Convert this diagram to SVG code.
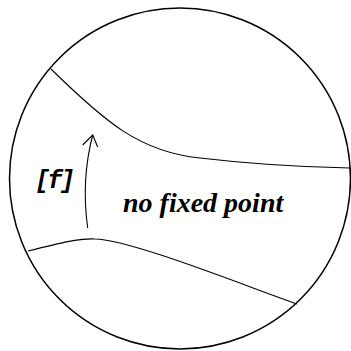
<svg xmlns="http://www.w3.org/2000/svg" width="351" height="351" viewBox="0 0 351 351">
<style>
.ln{fill:none;stroke:#000;stroke-width:1.1}
.lbl{font-family:"Liberation Serif",serif;font-style:italic;font-weight:bold;fill:#000}
.mono{font-family:"Liberation Mono",monospace}
</style>
<rect width="351" height="351" fill="#fff"/>
<g id="disk"><circle cx="180" cy="178.5" r="170.5" fill="none" stroke="#000" stroke-width="1.5"/></g>
<g id="connectors">
<path class="ln" d="M51,69 C105,122 140,152 200,158 C250,164 300,167 350,168"/>
<path class="ln" d="M28,251 C60,243 80,238 95,239 C130,240 230,280 297,304"/>
<path class="ln" d="M87.7,228 Q81,180 92.7,135"/>
<path class="ln" d="M82.7,145 L92.7,135 L97.7,147"/>
</g>
<g id="label-f"><text class="lbl mono" x="35" y="188" font-size="25" letter-spacing="-2.5">[f]</text></g>
<g id="label-nfp"><text class="lbl" x="123" y="212" font-size="28">no fixed point</text></g>
</svg>
